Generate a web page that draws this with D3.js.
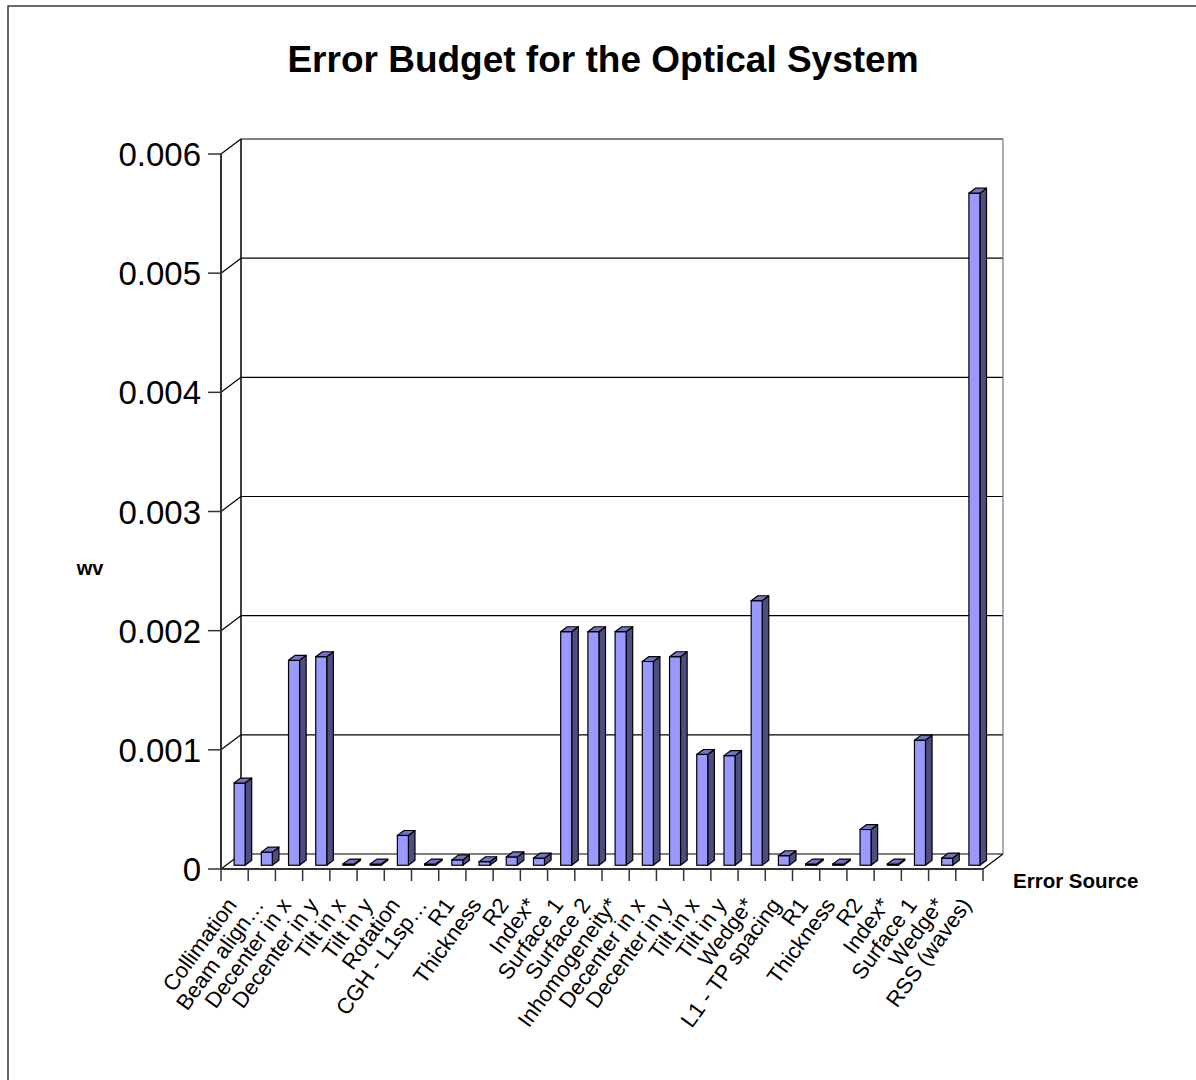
<!DOCTYPE html>
<html>
<head>
<meta charset="utf-8">
<script src="https://cdn.jsdelivr.net/npm/d3@7"></script>
<style>
    body { margin: 0; background: #ffffff; }
    text { font-family: Arial, "Liberation Sans", sans-serif; fill: #000000; }
</style>
</head>
<body>
<div id="svg_container"></div>
<script>
// values (waves)
const categories = [
    "Collimation", "Beam align\u2026", "Decenter in x", "Decenter in y", "Tilt in x", "Tilt in y",
    "Rotation", "CGH - L1sp\u2026", "R1", "Thickness", "R2", "Index*", "Surface 1", "Surface 2",
    "Inhomogeneity*", "Decenter in x", "Decenter in y", "Tilt in x", "Tilt in y", "Wedge*",
    "L1 - TP spacing", "R1", "Thickness", "R2", "Index*", "Surface 1", "Wedge*", "RSS (waves)"
];
const values = [
    0.00069, 0.00011, 0.00172, 0.00175, 0.00001, 0.00001,
    0.00025, 0.00001, 0.000045, 0.00003, 0.00007, 0.00006, 0.00196, 0.00196,
    0.00196, 0.00171, 0.00175, 0.00093, 0.00092, 0.00222,
    0.00008, 0.00001, 0.00001, 0.0003, 0.00001, 0.00105, 0.00006, 0.00564
];
const yTicks = [0, 0.001, 0.002, 0.003, 0.004, 0.005, 0.006];
const yTickLabels = ["0", "0.001", "0.002", "0.003", "0.004", "0.005", "0.006"];

const width = 1196, height = 1080;
const plot = {left: 221, right: 983, top: 154, bottom: 869};
const depth = {dx: 20, dy: -15};
const barW = 11, d0 = 0.25, d1 = 0.58;

const svg = d3.select("#svg_container")
        .append("svg")
        .attr("width", width)
        .attr("height", height);

svg.append("rect")
        .attr("x", 8)
        .attr("y", 6)
        .attr("width", 1300)
        .attr("height", 1200)
        .attr("fill", "#ffffff")
        .attr("stroke", "#3a3a3a")
        .attr("stroke-width", 1.5);

const x = d3.scaleBand()
        .domain(d3.range(categories.length))
        .range([plot.left, plot.right]);
const y = d3.scaleLinear()
        .domain([0, 0.006])
        .range([plot.bottom, plot.top]);

// walls and gridlines
const grid = svg.append("g").attr("class", "grid");
grid.selectAll("line.back")
        .data(yTicks)
        .enter().append("line")
        .attr("x1", plot.left + depth.dx)
        .attr("x2", plot.right + depth.dx)
        .attr("y1", d => y(d) + depth.dy)
        .attr("y2", d => y(d) + depth.dy)
        .attr("stroke", "#000")
        .attr("stroke-width", 1.2);
grid.selectAll("line.side")
        .data(yTicks)
        .enter().append("line")
        .attr("x1", plot.left)
        .attr("x2", plot.left + depth.dx)
        .attr("y1", d => y(d))
        .attr("y2", d => y(d) + depth.dy)
        .attr("stroke", "#000")
        .attr("stroke-width", 1.2);
grid.append("line")
        .attr("x1", plot.left + depth.dx)
        .attr("x2", plot.left + depth.dx)
        .attr("y1", y(0.006) + depth.dy)
        .attr("y2", y(0) + depth.dy)
        .attr("stroke", "#000")
        .attr("stroke-width", 1.5);
grid.append("line")
        .attr("x1", plot.right + depth.dx)
        .attr("x2", plot.right + depth.dx)
        .attr("y1", y(0.006) + depth.dy)
        .attr("y2", y(0) + depth.dy)
        .attr("stroke", "#777")
        .attr("stroke-width", 1.2);
grid.append("line")
        .attr("x1", plot.right)
        .attr("x2", plot.right + depth.dx)
        .attr("y1", y(0))
        .attr("y2", y(0) + depth.dy)
        .attr("stroke", "#000")
        .attr("stroke-width", 1.2);

// 3d columns
const bars = svg.append("g").attr("class", "bars");
values.forEach(function (v, i) {
    const xl = x(i) + (x.bandwidth() - barW) / 2 + d0 * depth.dx;
    const base = y(0) + d0 * depth.dy;
    const top = y(v) + d0 * depth.dy;
    const ddx = (d1 - d0) * depth.dx, ddy = (d1 - d0) * depth.dy;
    const g = bars.append("g");
    g.append("polygon")
            .attr("points", [[xl + barW, base], [xl + barW, top], [xl + barW + ddx, top + ddy], [xl + barW + ddx, base + ddy]].join(" "))
            .attr("fill", "#4d4d80")
            .attr("stroke", "#000")
            .attr("stroke-width", 1.2)
            .attr("stroke-linejoin", "round");
    g.append("rect")
            .attr("x", xl)
            .attr("y", top)
            .attr("width", barW)
            .attr("height", base - top)
            .attr("fill", "#9999ff")
            .attr("stroke", "#000")
            .attr("stroke-width", 1.2);
    g.append("polygon")
            .attr("points", [[xl, top], [xl + barW, top], [xl + barW + ddx, top + ddy], [xl + ddx, top + ddy]].join(" "))
            .attr("fill", "#7373bf")
            .attr("stroke", "#000")
            .attr("stroke-width", 1.2)
            .attr("stroke-linejoin", "round");
});

// front axes
const axes = svg.append("g").attr("class", "axes");
axes.append("line")
        .attr("x1", plot.left)
        .attr("x2", plot.left)
        .attr("y1", y(0.006))
        .attr("y2", y(0))
        .attr("stroke", "#333")
        .attr("stroke-width", 2);
axes.append("line")
        .attr("x1", plot.left)
        .attr("x2", plot.right)
        .attr("y1", y(0))
        .attr("y2", y(0))
        .attr("stroke", "#333")
        .attr("stroke-width", 2);
axes.selectAll("line.ytick")
        .data(yTicks)
        .enter().append("line")
        .attr("x1", plot.left - 13)
        .attr("x2", plot.left)
        .attr("y1", d => y(d))
        .attr("y2", d => y(d))
        .attr("stroke", "#333")
        .attr("stroke-width", 1.5);
axes.selectAll("text.ylabel")
        .data(yTicks)
        .enter().append("text")
        .attr("x", plot.left - 20)
        .attr("y", d => y(d) + 12)
        .attr("text-anchor", "end")
        .style("font-size", "33px")
        .text((d, i) => yTickLabels[i]);
axes.selectAll("line.xtick")
        .data(d3.range(categories.length + 1))
        .enter().append("line")
        .attr("x1", i => plot.left + i * x.bandwidth())
        .attr("x2", i => plot.left + i * x.bandwidth())
        .attr("y1", y(0))
        .attr("y2", y(0) + 12)
        .attr("stroke", "#333")
        .attr("stroke-width", 1.5);
axes.selectAll("text.xlabel")
        .data(categories)
        .enter().append("text")
        .attr("text-anchor", "end")
        .attr("transform", (d, i) => "translate("
                + (x(i) + x.bandwidth() / 2 + 3)
                + ","
                + (y(0) + 36)
                + ")rotate(-54)")
        .style("font-size", "22px")
        .text(d => d);

// titles
svg.append("text")
        .attr("x", 603)
        .attr("y", 72)
        .attr("text-anchor", "middle")
        .style("font-size", "37px")
        .style("font-weight", "bold")
        .text("Error Budget for the Optical System");
svg.append("text")
        .attr("x", 90)
        .attr("y", 575)
        .attr("text-anchor", "middle")
        .style("font-size", "20px")
        .style("font-weight", "bold")
        .text("wv");
svg.append("text")
        .attr("x", 1013)
        .attr("y", 888)
        .style("font-size", "20.5px")
        .style("font-weight", "bold")
        .text("Error Source");
</script>
</body>
</html>
